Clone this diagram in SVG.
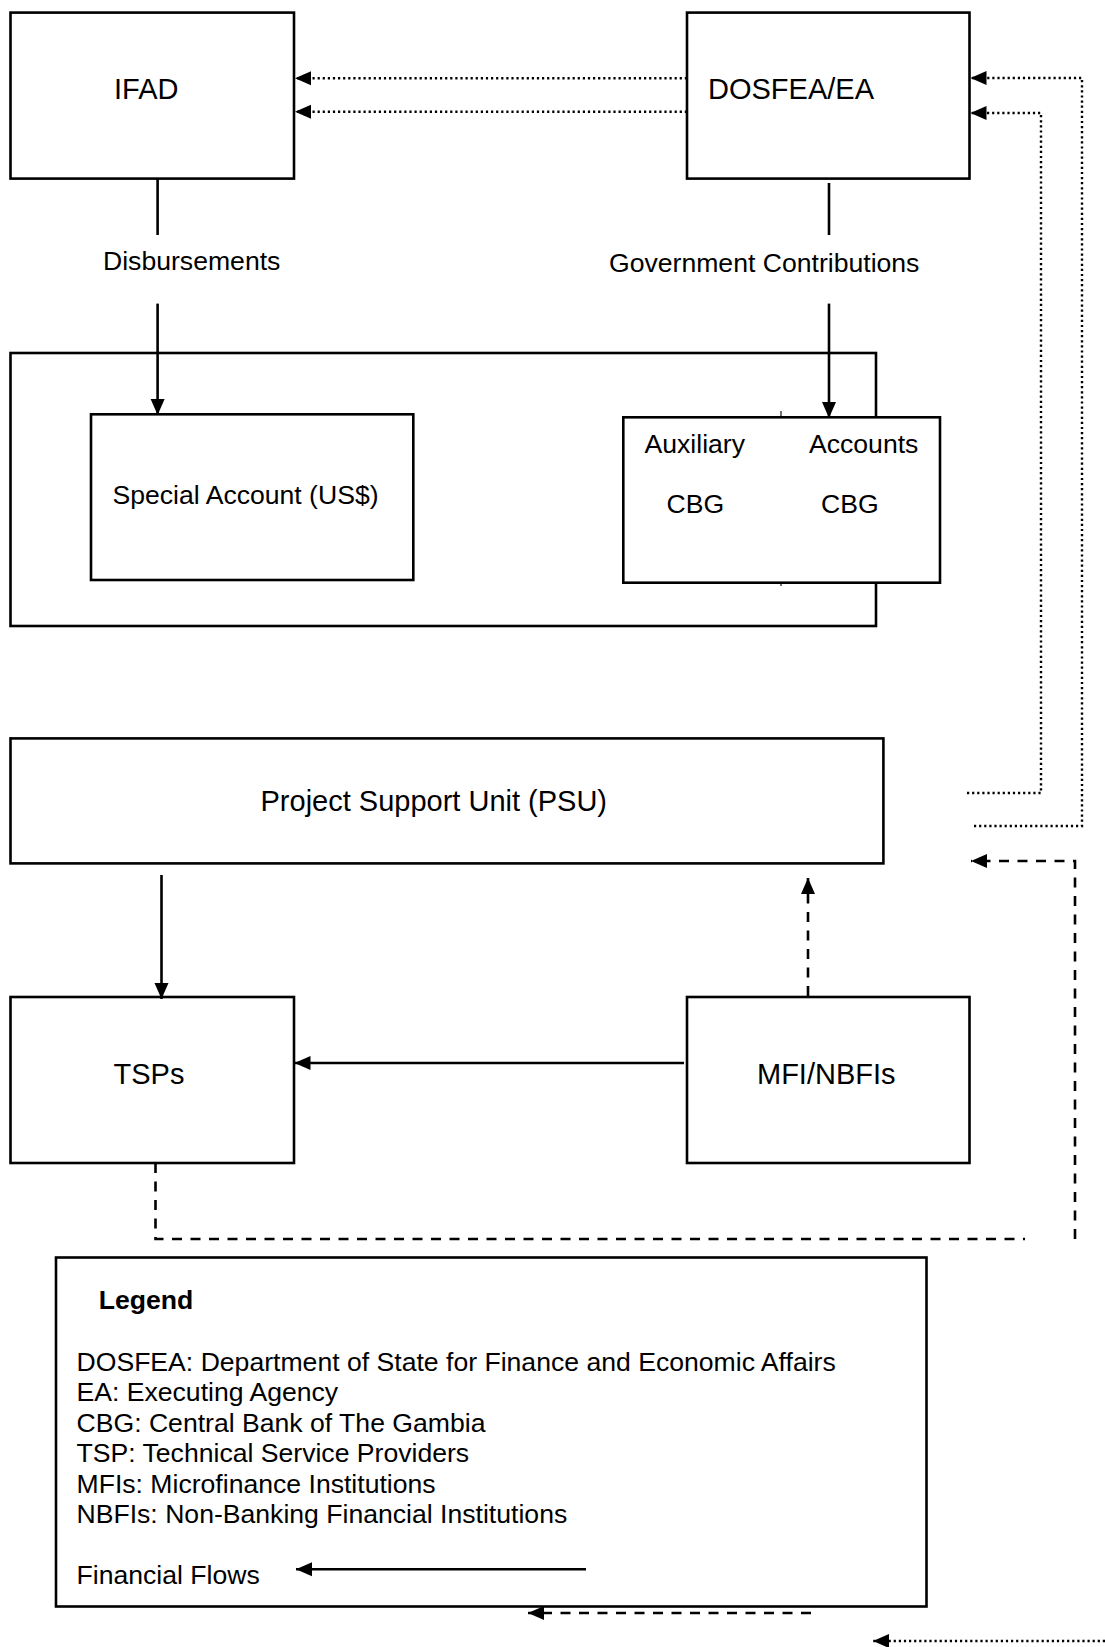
<svg xmlns="http://www.w3.org/2000/svg" width="1105" height="1647" viewBox="0 0 1105 1647">
<style>
  .box { fill: #fff; stroke: #000; stroke-width: 2.6; }
  .lbl { font-family: "Liberation Sans", Arial, sans-serif; font-size: 29px; fill: #000; }
  .txt { font-family: "Liberation Sans", Arial, sans-serif; font-size: 26.6px; fill: #000; }
  .bold { font-weight: bold; }
  .solid { fill: none; stroke: #000; stroke-width: 2.6; }
  .dash { fill: none; stroke: #000; stroke-width: 2.6; stroke-dasharray: 10 8.5; }
  .dot { fill: none; stroke: #000; stroke-width: 2.4; stroke-dasharray: 2.2 2.9; }
</style>
<defs>
  <marker id="ah" markerUnits="userSpaceOnUse" markerWidth="17" markerHeight="17" viewBox="0 0 17 17" refX="16" refY="8.5" orient="auto">
    <path d="M0,1.5 L16,8.5 L0,15.5 Z" fill="#000"/>
  </marker>
</defs>
<rect width="1105" height="1647" fill="#fff"/>

<g id="cbg-container">
  <rect class="box" x="10.5" y="353" width="865.5" height="273"/>
</g>

<g id="ifad">
  <rect class="box" x="10.5" y="12.6" width="283.5" height="166"/>
  <text class="lbl" x="114" y="99">IFAD</text>
</g>
<g id="dosfea">
  <rect class="box" x="687" y="12.6" width="282.5" height="166"/>
  <text class="lbl" x="708" y="99">DOSFEA/EA</text>
</g>

<g id="special-account">
  <rect class="box" x="91" y="414.3" width="322.3" height="165.7"/>
  <text class="txt" x="112.5" y="504">Special Account (US$)</text>
</g>

<g id="cbg-accounts">
  <line x1="781" y1="411" x2="781" y2="586" stroke="#444" stroke-width="1.5"/>
  <rect class="box" x="623.3" y="417.3" width="316.7" height="165.4"/>
  <text class="txt" x="644.5" y="453">Auxiliary</text>
  <text class="txt" x="809" y="453">Accounts</text>
  <text class="txt" x="666.5" y="513">CBG</text>
  <text class="txt" x="821" y="513">CBG</text>
</g>

<g id="psu">
  <rect class="box" x="10.5" y="738.4" width="872.9" height="125"/>
  <text class="lbl" x="260.5" y="811">Project Support Unit (PSU)</text>
</g>

<g id="tsps">
  <rect class="box" x="10.5" y="997" width="283.5" height="166"/>
  <text class="lbl" x="113.5" y="1084">TSPs</text>
</g>
<g id="mfi">
  <rect class="box" x="687" y="997" width="282.5" height="166"/>
  <text class="lbl" x="757" y="1084">MFI/NBFIs</text>
</g>

<g id="connectors">
  <path class="dot" d="M687,78.3 H295" marker-end="url(#ah)"/>
  <path class="dot" d="M687,111.7 H295" marker-end="url(#ah)"/>
  <path class="dot" d="M974,826 H1082 V78 H970.5" marker-end="url(#ah)"/>
  <path class="dot" d="M967,793 H1041 V113 H970.5" marker-end="url(#ah)"/>

  <path class="solid" d="M157.6,178.6 V235"/>
  <text class="txt" x="103" y="270">Disbursements</text>
  <path class="solid" d="M157.6,303.6 V415" marker-end="url(#ah)"/>

  <path class="solid" d="M829,183 V235"/>
  <text class="txt" x="609" y="272">Government Contributions</text>
  <path class="solid" d="M829,303.6 V418" marker-end="url(#ah)"/>

  <path class="solid" d="M161.5,875 V999" marker-end="url(#ah)"/>
  <path class="dash" d="M808,996 V878" marker-end="url(#ah)"/>
  <path class="solid" d="M684,1063 H294.5" marker-end="url(#ah)"/>

  <path class="dash" d="M155.5,1163 V1239 H1025"/>
  <path class="dash" d="M1075,1239 V861 H971" marker-end="url(#ah)"/>
</g>

<g id="legend">
  <rect class="box" x="56" y="1257.5" width="870.5" height="349"/>
  <text class="txt bold" x="98.7" y="1308.5">Legend</text>
  <text class="txt" x="76.5" y="1370.8">DOSFEA: Department of State for Finance and Economic Affairs</text>
  <text class="txt" x="76.5" y="1401.3">EA: Executing Agency</text>
  <text class="txt" x="76.5" y="1431.8">CBG: Central Bank of The Gambia</text>
  <text class="txt" x="76.5" y="1462.2">TSP: Technical Service Providers</text>
  <text class="txt" x="76.5" y="1492.7">MFIs: Microfinance Institutions</text>
  <text class="txt" x="76.5" y="1523.1">NBFIs: Non-Banking Financial Institutions</text>
  <text class="txt" x="76.5" y="1584">Financial Flows</text>
  <path class="solid" d="M586,1569.3 H296" marker-end="url(#ah)"/>
  <path class="dash" d="M811,1613 H528" marker-end="url(#ah)"/>
  <path class="dot" d="M1105,1641 H873" marker-end="url(#ah)"/>
</g>
</svg>
